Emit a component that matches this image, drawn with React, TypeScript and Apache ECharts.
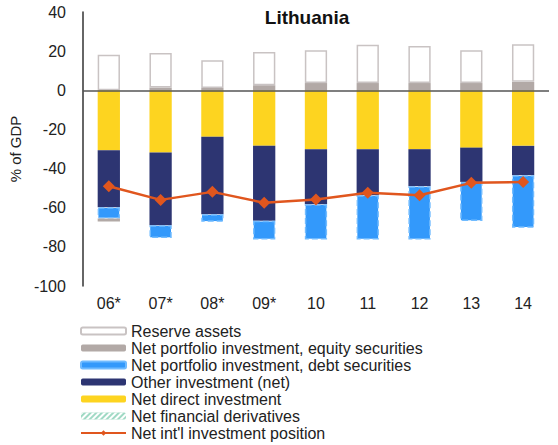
import React, { useEffect, useRef } from "react";
import * as echarts from "echarts";

const categories = ["06*", "07*", "08*", "09*", "10", "11", "12", "13", "14"];
const reserveAssets = [18.2, 17.6, 14.1, 17.0, 16.7, 19.6, 18.9, 16.7, 19.2];
const equitySecurities = [-1.5, 1.4, 1.2, 2.6, 3.7, 3.7, 3.7, 3.7, 4.3];
const debtSecurities = [-5.7, -6.6, -3.9, -9.5, -18.0, -22.6, -27.2, -20.0, -26.9];
const otherInvestment = [-29.2, -37.1, -39.5, -38.3, -28.1, -23.5, -18.9, -17.5, -15.0];
const directInvestment = [-30.6, -31.8, -23.8, -28.4, -30.1, -30.1, -30.1, -29.3, -28.4];
const financialDerivatives: number[] = [];
const niip = [-49.0, -56.0, -51.9, -57.5, -55.8, -52.4, -53.6, -47.3, -46.8];
const yTicks = { min: -100, max: 40, interval: 20 };

const FONT = "'Liberation Sans', Arial, sans-serif";

export default function App() {
  const ref = useRef<HTMLDivElement>(null);
  useEffect(() => {
    document.body.style.margin = "0";
    if (!ref.current) return;
    const chart = echarts.init(ref.current, undefined, { renderer: "svg" });
    const barW = "43%";
    chart.setOption({
      animation: false,
      textStyle: { fontFamily: FONT },
      title: {
        text: "Lithuania",
        left: 302,
        textAlign: "center",
        top: 3,
        textStyle: { fontFamily: FONT, fontSize: 19, fontWeight: "bold", color: "#111" },
      },
      grid: { left: 74, right: 9, top: 12, bottom: 159, containLabel: false },
      legend: {
        orient: "vertical",
        left: 80,
        top: 323,
        height: 140,
        padding: 0,
        itemWidth: 45,
        itemHeight: 7,
        itemGap: 1,
        data: [
          "Reserve assets",
          "Net portfolio investment, equity securities",
          "Net portfolio investment, debt securities",
          "Other investment (net)",
          "Net direct investment",
          "Net financial derivatives",
          "Net int'l investment position",
        ],
        textStyle: { fontFamily: FONT, fontSize: 16, color: "#222", lineHeight: 15 },
      },
      xAxis: {
        type: "category",
        data: categories,
        axisLine: { show: false, onZero: false },
        axisTick: { show: false },
        axisLabel: { fontFamily: FONT, fontSize: 16, color: "#222", margin: 9 },
      },
      yAxis: {
        type: "value",
        min: yTicks.min,
        max: yTicks.max,
        interval: yTicks.interval,
        name: "% of GDP",
        nameLocation: "middle",
        nameGap: 48,
        nameTextStyle: { fontFamily: FONT, fontSize: 15, color: "#222" },
        axisLine: { show: true, lineStyle: { color: "#333", width: 1.5 } },
        axisTick: { show: false },
        splitLine: { show: false },
        axisLabel: { fontFamily: FONT, fontSize: 16, color: "#222", margin: 17 },
      },
      series: [
        {
          name: "Net direct investment",
          type: "bar",
          stack: "t",
          barWidth: barW,
          data: directInvestment,
          itemStyle: { color: "#fdd420" },
        },
        {
          name: "Other investment (net)",
          type: "bar",
          stack: "t",
          barWidth: barW,
          data: otherInvestment,
          itemStyle: { color: "#2d3572" },
        },
        {
          name: "Net portfolio investment, debt securities",
          type: "bar",
          stack: "t",
          barWidth: barW,
          data: debtSecurities,
          itemStyle: { color: "#3399fb", borderColor: "#70bbff", borderWidth: 1.5, borderType: "dashed" },
        },
        {
          name: "Net portfolio investment, equity securities",
          type: "bar",
          stack: "t",
          barWidth: barW,
          data: equitySecurities,
          itemStyle: { color: "#b2a9a6" },
        },
        {
          name: "Reserve assets",
          type: "bar",
          stack: "t",
          barWidth: barW,
          data: reserveAssets,
          itemStyle: { color: "#ffffff", borderColor: "#c9c3c3", borderWidth: 1.5 },
        },
        {
          name: "Net financial derivatives",
          type: "bar",
          stack: "t",
          barWidth: barW,
          data: financialDerivatives,
          itemStyle: {
            color: "#9fd9c4",
            decal: {
              symbol: "rect",
              color: "#ffffff",
              dashArrayX: [1, 0],
              dashArrayY: [2, 2],
              rotation: -Math.PI / 4,
            },
          },
        },
        {
          name: "Net int'l investment position",
          type: "line",
          data: niip,
          z: 10,
          symbol: "diamond",
          symbolSize: 12,
          lineStyle: { color: "#e0561e", width: 2.5 },
          itemStyle: { color: "#e0561e" },
          markLine: {
            silent: true,
            symbol: ["none", "none"],
            label: { show: false },
            lineStyle: { color: "#555", width: 1.5, type: "solid" },
            data: [{ yAxis: 0 }],
          },
        },
      ],
    });
    return () => chart.dispose();
  }, []);
  return <div ref={ref} style={{ width: 558, height: 445 }} />;
}
